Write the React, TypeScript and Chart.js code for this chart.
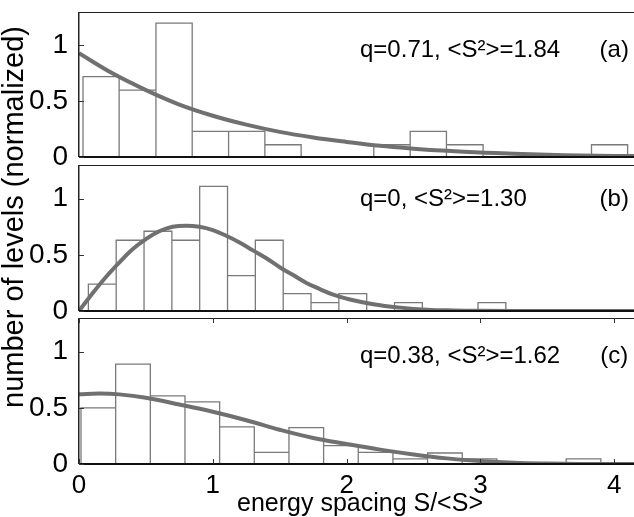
import React, { useEffect, useRef } from "react";
import { Chart, registerables } from "chart.js";

Chart.register(...registerables);

// ---------- axis ranges / ticks ----------
const X_MIN = 0;
const X_MAX = 4.2;
const Y_MIN = 0;
const Y_MAX = 1.3;
const X_TICKS = [0, 1, 2, 3, 4];
const Y_TICKS = [0, 0.5, 1];

const X_TITLE = "energy spacing S/<S>";
const Y_TITLE = "number of levels (normalized)";

// ---------- panel (a) ----------
const EDGES_A = [0.03, 0.30, 0.575, 0.846, 1.118, 1.389, 1.66, 1.93, 2.203, 2.475, 2.746, 3.02, 3.29, 3.56, 3.83, 4.10];
const HIST_A = [0.72, 0.60, 1.20, 0.23, 0.23, 0.11, 0, 0, 0.11, 0.23, 0.11, 0, 0, 0, 0.11];
const CURVE_X_A = [0, 0.25, 0.5, 0.75, 1.0, 1.25, 1.5, 1.75, 2.0, 2.25, 2.5, 2.75, 3.0, 3.25, 3.5, 3.75, 4.0, 4.2];
const CURVE_Y_A = [0.93, 0.75, 0.60, 0.47, 0.37, 0.29, 0.225, 0.175, 0.135, 0.10, 0.075, 0.055, 0.04, 0.03, 0.02, 0.014, 0.01, 0.008];
const LABEL_A = "q=0.71, <S²>=1.84";
const TAG_A = "(a)";

// ---------- panel (b) ----------
const EDGES_B = [0.07, 0.278, 0.486, 0.694, 0.902, 1.11, 1.318, 1.526, 1.734, 1.942, 2.15, 2.358, 2.566, 2.774, 2.982, 3.19];
const HIST_B = [0.24, 0.63, 0.71, 0.63, 1.11, 0.315, 0.63, 0.155, 0.075, 0.155, 0, 0.075, 0, 0, 0.075];
const CURVE_X_B = [0, 0.1, 0.2, 0.3, 0.4, 0.5, 0.6, 0.7, 0.8, 0.9, 1.0, 1.1, 1.2, 1.3, 1.4, 1.5, 1.6, 1.7, 1.8, 1.9, 2.0, 2.2, 2.4, 2.6, 2.8, 3.0, 3.5, 4.2];
const CURVE_Y_B = [0, 0.155, 0.30, 0.43, 0.55, 0.64, 0.71, 0.75, 0.76, 0.75, 0.72, 0.67, 0.61, 0.54, 0.47, 0.39, 0.32, 0.25, 0.195, 0.145, 0.11, 0.06, 0.03, 0.012, 0.005, 0.002, 0, 0];
const LABEL_B = "q=0, <S²>=1.30";
const TAG_B = "(b)";

// ---------- panel (c) ----------
const EDGES_C = [0.015, 0.274, 0.533, 0.792, 1.051, 1.31, 1.569, 1.828, 2.087, 2.346, 2.605, 2.864, 3.123, 3.382, 3.641, 3.90];
const HIST_C = [0.50, 0.89, 0.607, 0.554, 0.33, 0.104, 0.324, 0.164, 0.104, 0.045, 0.098, 0.045, 0, 0, 0.045];
const CURVE_X_C = [0, 0.15, 0.3, 0.5, 0.75, 1.0, 1.25, 1.5, 1.75, 2.0, 2.25, 2.5, 2.75, 3.0, 3.25, 3.5, 3.75, 4.0, 4.2];
const CURVE_Y_C = [0.62, 0.627, 0.62, 0.59, 0.53, 0.465, 0.39, 0.305, 0.232, 0.178, 0.128, 0.085, 0.05, 0.026, 0.011, 0.004, 0.001, 0, 0];
const LABEL_C = "q=0.38, <S²>=1.62";
const TAG_C = "(c)";

// ---------- styling ----------
const FONT = "'Liberation Sans', Arial, Helvetica, sans-serif";
const HIST_COLOR = "#7a7a7a";
const CURVE_COLOR = "#707070";
const W = 660;
const H = 517;

function outline(edges: number[], heights: number[]) {
  const pts: { x: number; y: number }[] = [];
  for (let i = 0; i < heights.length; i++) {
    pts.push({ x: edges[i], y: 0 });
    pts.push({ x: edges[i], y: heights[i] });
    pts.push({ x: edges[i + 1], y: heights[i] });
    pts.push({ x: edges[i + 1], y: 0 });
  }
  return pts;
}

function curve(xs: number[], ys: number[]) {
  return xs.map((x, i) => ({ x, y: ys[i] }));
}

const panelPlugin = {
  id: "panelFrame",
  afterDatasetsDraw(chart: any, _args: any, opts: any) {
    const { ctx, chartArea: a, scales } = chart;
    const line = (x1: number, y1: number, x2: number, y2: number) => {
      ctx.beginPath();
      ctx.moveTo(x1, y1);
      ctx.lineTo(x2, y2);
      ctx.stroke();
    };
    ctx.save();
    ctx.strokeStyle = "#222";
    ctx.lineWidth = 1;
    line(a.left, a.top + 0.5, a.right, a.top + 0.5);
    ctx.lineWidth = 1.5;
    line(a.left - 0.25, a.top, a.left - 0.25, a.bottom);
    ctx.strokeStyle = "#111";
    ctx.lineWidth = 2;
    line(a.left, a.bottom, a.right, a.bottom);
    ctx.strokeStyle = "#333";
    ctx.lineWidth = 1;
    for (const v of Y_TICKS) {
      const py = Math.round(scales.y.getPixelForValue(v)) + 0.5;
      line(a.left, py, a.left + 5, py);
    }
    if (opts.xTicks) {
      for (const v of X_TICKS) {
        const px = Math.round(scales.x.getPixelForValue(v)) + 0.5;
        line(px, a.top, px, a.top + 5);
        line(px, a.bottom, px, a.bottom - 5);
      }
    }
    ctx.fillStyle = "#000";
    ctx.font = `24px ${FONT}`;
    ctx.textBaseline = "middle";
    for (const item of opts.labels) {
      ctx.textAlign = item.align;
      ctx.fillText(item.text, scales.x.getPixelForValue(item.x), scales.y.getPixelForValue(item.y));
    }
    ctx.restore();
  },
};

type PanelCfg = {
  edges: number[];
  hist: number[];
  cx: number[];
  cy: number[];
  label: string;
  tag: string;
  labelY: number;
  padding: { top: number; bottom: number; left: number; right: number };
  withYTitle: boolean;
  xMode: "hidden" | "spacer" | "full";
  spacerHeight?: number;
};

function buildConfig(p: PanelCfg): any {
  const titleFont = 29;
  const titleLH = 1;
  const titlePadTop = 0;
  const titleBox = titleFont * titleLH + titlePadTop;
  const yWidth = p.withYTitle ? 79 - titleBox : 79;

  const xScale: any = {
    type: "linear",
    min: X_MIN,
    max: X_MAX,
    grid: { display: false },
    border: { display: false },
    afterBuildTicks: (s: any) => {
      s.ticks = X_TICKS.map((v) => ({ value: v }));
    },
  };
  if (p.xMode === "hidden") {
    xScale.display = false;
  } else if (p.xMode === "spacer") {
    xScale.display = true;
    xScale.ticks = { display: false };
    xScale.afterFit = (s: any) => {
      s.height = p.spacerHeight;
    };
  } else {
    xScale.display = true;
    xScale.ticks = {
      color: "#000",
      padding: 1,
      maxRotation: 0,
      font: { family: FONT, size: 26, lineHeight: 1 },
      callback: (v: number) => String(v),
    };
    xScale.title = {
      display: true,
      text: X_TITLE,
      color: "#000",
      padding: 0,
      font: { family: FONT, size: 25, lineHeight: 1 },
    };
    xScale.afterFit = (s: any) => {
      s.height = 53;
      s.paddingLeft = 0;
      s.paddingRight = 0;
    };
  }

  return {
    type: "line",
    data: {
      datasets: [
        {
          data: curve(p.cx, p.cy),
          borderColor: CURVE_COLOR,
          borderWidth: 4,
          pointRadius: 0,
          fill: false,
          tension: 0.4,
          order: 1,
        },
        {
          data: outline(p.edges, p.hist),
          borderColor: HIST_COLOR,
          borderWidth: 1.3,
          pointRadius: 0,
          fill: false,
          tension: 0,
          order: 2,
        },
      ],
    },
    options: {
      animation: false,
      responsive: false,
      devicePixelRatio: 1,
      events: [],
      layout: { padding: p.padding },
      plugins: {
        legend: { display: false },
        tooltip: { enabled: false },
        title: p.withYTitle
          ? {
              display: true,
              position: "left",
              text: Y_TITLE,
              color: "#000",
              padding: { top: titlePadTop, bottom: 0 },
              font: { family: FONT, size: titleFont, lineHeight: titleLH, weight: "normal" },
            }
          : { display: false },
        panelFrame: {
          xTicks: p.xMode === "full",
          labels: [
            { text: p.label, x: 2.1, y: p.labelY, align: "left" },
            { text: p.tag, x: 4.0, y: p.labelY, align: "center" },
          ],
        },
      },
      scales: {
        x: xScale,
        y: {
          type: "linear",
          min: Y_MIN,
          max: Y_MAX,
          grid: { display: false },
          border: { display: false },
          afterBuildTicks: (s: any) => {
            s.ticks = Y_TICKS.map((v) => ({ value: v }));
          },
          ticks: {
            color: "#000",
            padding: 3,
            font: { family: FONT, size: 28, lineHeight: 1 },
            callback: (v: number) => String(v),
          },
          afterFit: (s: any) => {
            s.width = yWidth;
            s.paddingTop = 0;
            s.paddingBottom = 0;
          },
        },
      },
    },
    plugins: [panelPlugin],
  };
}

const PANELS: PanelCfg[] = [
  {
    edges: EDGES_A, hist: HIST_A, cx: CURVE_X_A, cy: CURVE_Y_A, label: LABEL_A, tag: TAG_A, labelY: 0.96,
    padding: { top: 12, bottom: 95, left: 0, right: 19 }, withYTitle: true, xMode: "spacer", spacerHeight: 265,
  },
  {
    edges: EDGES_B, hist: HIST_B, cx: CURVE_X_B, cy: CURVE_Y_B, label: LABEL_B, tag: TAG_B, labelY: 0.99,
    padding: { top: 165, bottom: 206, left: 0, right: 19 }, withYTitle: false, xMode: "hidden",
  },
  {
    edges: EDGES_C, hist: HIST_C, cx: CURVE_X_C, cy: CURVE_Y_C, label: LABEL_C, tag: TAG_C, labelY: 0.96,
    padding: { top: 318, bottom: 0, left: 0, right: 19 }, withYTitle: false, xMode: "full",
  },
];

function Panel({ cfg }: { cfg: PanelCfg }) {
  const ref = useRef<HTMLCanvasElement | null>(null);
  useEffect(() => {
    if (!ref.current) return;
    const chart = new Chart(ref.current, buildConfig(cfg));
    return () => chart.destroy();
  }, [cfg]);
  return (
    <canvas
      ref={ref}
      width={W}
      height={H}
      style={{ position: "absolute", left: 0, top: 0, width: W, height: H }}
    />
  );
}

export default function App() {
  return (
    <div
      style={{
        position: "absolute",
        left: 0,
        top: 0,
        width: 634,
        height: 517,
        overflow: "hidden",
        background: "#fff",
      }}
    >
      {PANELS.map((p, i) => (
        <Panel key={i} cfg={p} />
      ))}
    </div>
  );
}
